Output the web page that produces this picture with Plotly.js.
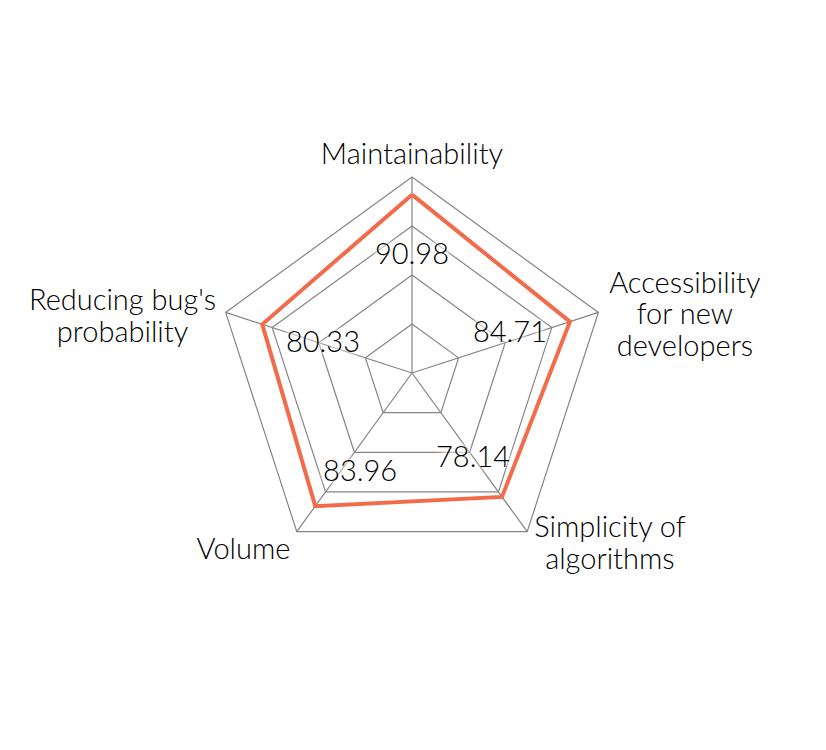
<!DOCTYPE html>
<html>
<head>
<meta charset="utf-8">
<script src="https://cdn.plot.ly/plotly-3.0.1.min.js"></script>
<style>html,body{margin:0;padding:0;background:#fff;}#chart{width:826px;height:750px;}</style>
</head>
<body>
<div id="chart"></div>
<script>
// Data
const categories = ["Maintainability", "Accessibility for new developers", "Simplicity of algorithms", "Volume", "Reducing bug's probability"];
const categoryLabels = ["Maintainability", "Accessibility<br>for new<br>developers", "Simplicity of<br>algorithms", "Volume", "Reducing bug's<br>probability"];
const values = [90.98, 84.71, 78.14, 83.96, 80.33];
const radialTicks = [25, 50, 75, 100];

// Placement of the text (polar coordinates on an overlay subplot with the same scale)
const labelR = [60.5, 54.2, 53.0, 56.6, 48.1];
const labelTheta = [0, 67.3, 144, 207.9, 289.2];
const catLabelR = [111.7, 142.4, 133.2, 124.5, 150.5];
const catLabelTheta = [0, 77.9, 130.7, 223.7, 281.1];
const lineSpacing = 31.5; // px between lines of a category label
const textShift = 2.5;    // px downward nudge of all text

const W = 826, H = 750;
const cx = 412, cy = 373, rad = 196; // chart centre and radius in pixels
const outerScale = 1.6;
const k = rad / 100; // px per radial unit

function place(r, thetaDeg, extraDy) {
  const t = thetaDeg * Math.PI / 180;
  const dx = r * k * Math.sin(t);
  const dy = -r * k * Math.cos(t) + extraDy + textShift;
  return [Math.hypot(dx, dy) / k, Math.atan2(dx, -dy) * 180 / Math.PI];
}

const valR = [], valTheta = [];
labelR.forEach((r, i) => {
  const p = place(r, labelTheta[i], 0);
  valR.push(p[0]); valTheta.push(p[1]);
});

// split multi-line category labels into one text point per line
const catLineR = [], catLineTheta = [], catLineText = [];
categoryLabels.forEach((lab, i) => {
  const lines = lab.split("<br>");
  lines.forEach((ln, j) => {
    const p = place(catLabelR[i], catLabelTheta[i], (j - (lines.length - 1) / 2) * lineSpacing);
    catLineR.push(p[0]);
    catLineTheta.push(p[1]);
    catLineText.push(ln);
  });
});

const grey = "#858585";
const fontFam = "'Lato Light', Lato, 'Open Sans', sans-serif";

const traces = [
  {
    type: "scatterpolar",
    subplot: "polar",
    r: values.concat([values[0]]),
    theta: categories.concat([categories[0]]),
    mode: "lines",
    line: {color: "#f26b4a", width: 4},
    hoverinfo: "skip",
    showlegend: false
  },
  {
    type: "scatterpolar",
    subplot: "polar2",
    r: valR,
    theta: valTheta,
    mode: "text",
    text: values.map(v => v.toFixed(2)),
    textposition: "middle center",
    cliponaxis: false,
    textfont: {family: fontFam, size: 29, color: "#000", weight: 300,
      shadow: "0 0 4px #fff, 0 0 6px #fff, 0 0 8px #fff, 0 0 10px #fff"},
    hoverinfo: "skip",
    showlegend: false
  },
  {
    type: "scatterpolar",
    subplot: "polar2",
    r: catLineR,
    theta: catLineTheta,
    mode: "text",
    text: catLineText,
    textposition: "middle center",
    cliponaxis: false,
    textfont: {family: fontFam, size: 29, color: "#000", weight: 300},
    hoverinfo: "skip",
    showlegend: false
  }
];

const r2 = rad * outerScale;
const layout = {
  width: W,
  height: H,
  margin: {l: 0, r: 0, t: 0, b: 0, pad: 0},
  paper_bgcolor: "#fff",
  font: {family: fontFam, size: 29, color: "#000", weight: 300},
  showlegend: false,
  polar: {
    domain: {x: [(cx - rad) / W, (cx + rad) / W], y: [(H - cy - rad) / H, (H - cy + rad) / H]},
    bgcolor: "rgba(0,0,0,0)",
    gridshape: "linear",
    radialaxis: {
      range: [0, 100],
      tickvals: radialTicks,
      showticklabels: false,
      ticks: "",
      showline: false,
      gridcolor: grey,
      gridwidth: 1.2
    },
    angularaxis: {
      type: "category",
      categoryarray: categories,
      direction: "clockwise",
      rotation: 90,
      showline: true,
      linecolor: grey,
      linewidth: 1.2,
      gridcolor: grey,
      gridwidth: 1.2,
      ticks: "",
      showticklabels: false
    }
  },
  polar2: {
    domain: {x: [(cx - r2) / W, (cx + r2) / W], y: [(H - cy - r2) / H, (H - cy + r2) / H]},
    bgcolor: "rgba(0,0,0,0)",
    radialaxis: {visible: false, range: [0, 100 * outerScale]},
    angularaxis: {visible: false, type: "linear", thetaunit: "degrees", direction: "clockwise", rotation: 90}
  }
};

Plotly.newPlot("chart", traces, layout, {displayModeBar: false, staticPlot: true});
</script>
</body>
</html>
